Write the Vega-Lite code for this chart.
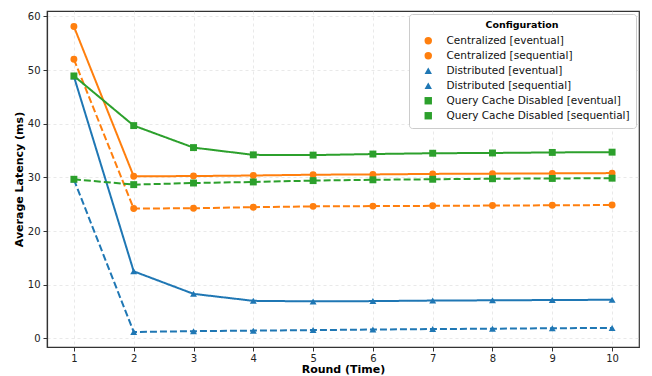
{
  "$schema": "https://vega.github.io/schema/vega-lite/v6.json",
  "width": 592,
  "height": 336,
  "autosize": "none",
  "padding": {"left": 47, "top": 11, "right": 13, "bottom": 29},
  "background": "white",
  "config": {
    "font": "DejaVu Sans",
    "view": {"stroke": "#333333", "strokeWidth": 1.2},
    "axis": {
      "labelFont": "DejaVu Sans", "labelFontSize": 10, "labelColor": "#222",
      "titleFont": "DejaVu Sans", "titleFontSize": 11, "titleFontWeight": "bold", "titleColor": "#000",
      "gridColor": "#dddddd", "gridDash": [3, 3], "gridWidth": 0.8, "gridOpacity": 0.8,
      "tickColor": "#333", "tickSize": 4, "domainColor": "#333", "domainWidth": 1.2
    },
    "legend": {
      "labelFont": "DejaVu Sans", "labelFontSize": 10.5, "labelColor": "#111", "labelLimit": 400,
      "titleFont": "DejaVu Sans", "titleFontSize": 9.5, "titleFontWeight": "bold", "titleColor": "#000"
    }
  },
  "data": {"values": [
    {"config": "Centralized [eventual]", "round": 1, "latency": 52.0},
    {"config": "Centralized [eventual]", "round": 2, "latency": 24.2},
    {"config": "Centralized [eventual]", "round": 3, "latency": 24.25},
    {"config": "Centralized [eventual]", "round": 4, "latency": 24.45},
    {"config": "Centralized [eventual]", "round": 5, "latency": 24.6},
    {"config": "Centralized [eventual]", "round": 6, "latency": 24.65},
    {"config": "Centralized [eventual]", "round": 7, "latency": 24.7},
    {"config": "Centralized [eventual]", "round": 8, "latency": 24.75},
    {"config": "Centralized [eventual]", "round": 9, "latency": 24.8},
    {"config": "Centralized [eventual]", "round": 10, "latency": 24.85},
    {"config": "Centralized [sequential]", "round": 1, "latency": 58.1},
    {"config": "Centralized [sequential]", "round": 2, "latency": 30.2},
    {"config": "Centralized [sequential]", "round": 3, "latency": 30.25},
    {"config": "Centralized [sequential]", "round": 4, "latency": 30.35},
    {"config": "Centralized [sequential]", "round": 5, "latency": 30.5},
    {"config": "Centralized [sequential]", "round": 6, "latency": 30.55},
    {"config": "Centralized [sequential]", "round": 7, "latency": 30.65},
    {"config": "Centralized [sequential]", "round": 8, "latency": 30.7},
    {"config": "Centralized [sequential]", "round": 9, "latency": 30.75},
    {"config": "Centralized [sequential]", "round": 10, "latency": 30.8},
    {"config": "Distributed [eventual]", "round": 1, "latency": 29.6},
    {"config": "Distributed [eventual]", "round": 2, "latency": 1.2},
    {"config": "Distributed [eventual]", "round": 3, "latency": 1.35},
    {"config": "Distributed [eventual]", "round": 4, "latency": 1.45},
    {"config": "Distributed [eventual]", "round": 5, "latency": 1.55},
    {"config": "Distributed [eventual]", "round": 6, "latency": 1.65},
    {"config": "Distributed [eventual]", "round": 7, "latency": 1.75},
    {"config": "Distributed [eventual]", "round": 8, "latency": 1.8},
    {"config": "Distributed [eventual]", "round": 9, "latency": 1.9},
    {"config": "Distributed [eventual]", "round": 10, "latency": 1.95},
    {"config": "Distributed [sequential]", "round": 1, "latency": 48.8},
    {"config": "Distributed [sequential]", "round": 2, "latency": 12.5},
    {"config": "Distributed [sequential]", "round": 3, "latency": 8.3},
    {"config": "Distributed [sequential]", "round": 4, "latency": 7.0},
    {"config": "Distributed [sequential]", "round": 5, "latency": 6.9},
    {"config": "Distributed [sequential]", "round": 6, "latency": 6.95},
    {"config": "Distributed [sequential]", "round": 7, "latency": 7.05},
    {"config": "Distributed [sequential]", "round": 8, "latency": 7.1},
    {"config": "Distributed [sequential]", "round": 9, "latency": 7.15},
    {"config": "Distributed [sequential]", "round": 10, "latency": 7.2},
    {"config": "Query Cache Disabled [eventual]", "round": 1, "latency": 29.65},
    {"config": "Query Cache Disabled [eventual]", "round": 2, "latency": 28.65},
    {"config": "Query Cache Disabled [eventual]", "round": 3, "latency": 28.95},
    {"config": "Query Cache Disabled [eventual]", "round": 4, "latency": 29.15},
    {"config": "Query Cache Disabled [eventual]", "round": 5, "latency": 29.4},
    {"config": "Query Cache Disabled [eventual]", "round": 6, "latency": 29.55},
    {"config": "Query Cache Disabled [eventual]", "round": 7, "latency": 29.65},
    {"config": "Query Cache Disabled [eventual]", "round": 8, "latency": 29.75},
    {"config": "Query Cache Disabled [eventual]", "round": 9, "latency": 29.8},
    {"config": "Query Cache Disabled [eventual]", "round": 10, "latency": 29.85},
    {"config": "Query Cache Disabled [sequential]", "round": 1, "latency": 48.9},
    {"config": "Query Cache Disabled [sequential]", "round": 2, "latency": 39.65},
    {"config": "Query Cache Disabled [sequential]", "round": 3, "latency": 35.55},
    {"config": "Query Cache Disabled [sequential]", "round": 4, "latency": 34.2},
    {"config": "Query Cache Disabled [sequential]", "round": 5, "latency": 34.15},
    {"config": "Query Cache Disabled [sequential]", "round": 6, "latency": 34.35},
    {"config": "Query Cache Disabled [sequential]", "round": 7, "latency": 34.5},
    {"config": "Query Cache Disabled [sequential]", "round": 8, "latency": 34.55},
    {"config": "Query Cache Disabled [sequential]", "round": 9, "latency": 34.65},
    {"config": "Query Cache Disabled [sequential]", "round": 10, "latency": 34.7}
  ]},
  "encoding": {
    "x": {"field": "round", "type": "quantitative",
      "scale": {"domain": [0.55, 10.45], "nice": false, "zero": false},
      "axis": {"values": [1,2,3,4,5,6,7,8,9,10], "title": "Round (Time)", "titlePadding": 0, "labelPadding": 2}},
    "y": {"field": "latency", "type": "quantitative",
      "scale": {"domain": [-1.6, 61], "nice": false, "zero": false},
      "axis": {"values": [0,10,20,30,40,50,60], "title": "Average Latency (ms)", "titlePadding": 3, "labelPadding": 3}},
    "color": {"field": "config", "type": "nominal", "title": "Configuration",
      "scale": {"domain": ["Centralized [eventual]", "Centralized [sequential]", "Distributed [eventual]", "Distributed [sequential]", "Query Cache Disabled [eventual]", "Query Cache Disabled [sequential]"],
        "range": ["#ff7f0e", "#ff7f0e", "#1f77b4", "#1f77b4", "#2ca02c", "#2ca02c"]},
      "legend": {"orient": "top-right", "offset": 3, "fillColor": "white", "strokeColor": "#cccccc", "padding": 6, "cornerRadius": 3, "titleAnchor": "middle", "titlePadding": 6, "rowPadding": 4, "symbolStrokeWidth": 0, "symbolSize": 55, "symbolOffset": 8, "labelOffset": 13, "symbolOpacity": 1}}
  },
  "layer": [
    {
      "mark": {"type": "line", "strokeWidth": 2},
      "encoding": {
        "strokeDash": {"field": "config", "type": "nominal", "title": "Configuration",
          "scale": {"domain": ["Centralized [eventual]", "Centralized [sequential]", "Distributed [eventual]", "Distributed [sequential]", "Query Cache Disabled [eventual]", "Query Cache Disabled [sequential]"],
            "range": [[7,3],[1,0],[7,3],[1,0],[7,3],[1,0]]}}
      }
    },
    {
      "mark": {"type": "point", "filled": true, "opacity": 1, "size": 48},
      "encoding": {
        "shape": {"field": "config", "type": "nominal", "title": "Configuration",
          "scale": {"domain": ["Centralized [eventual]", "Centralized [sequential]", "Distributed [eventual]", "Distributed [sequential]", "Query Cache Disabled [eventual]", "Query Cache Disabled [sequential]"],
            "range": ["circle", "circle", "triangle-up", "triangle-up", "square", "square"]}}
      }
    }
  ]
}
